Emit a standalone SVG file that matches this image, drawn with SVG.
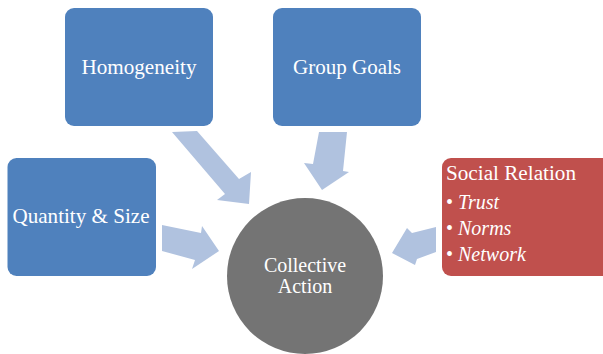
<svg xmlns="http://www.w3.org/2000/svg" width="603" height="354" viewBox="0 0 603 354">
  <style>
    .box { fill: #4F81BD; }
    .red { fill: #C0504D; }
    .hub { fill: #747474; }
    .arrow { fill: #B0C2DF; }
    .big { font-size: 22px; }
    .small { font-size: 20px; }
    .mid { text-anchor: middle; }
    .it { font-style: italic; }
  </style>
  <rect width="603" height="354" fill="#FFFFFF"/>

  <!-- connectors: block arrows pointing into the hub -->
  <g id="connectors">
    <polygon class="arrow" points="172,132 197,131 239,179 251,172 249,204 217,200 225,194"/>
    <polygon class="arrow" points="319,132 347,132 343,171 349,172 322,190 304,163 313,164"/>
    <polygon class="arrow" points="162,225 201,233 202,226 219,251 192,269 195,260 162,251"/>
    <polygon class="arrow" points="436,227 412,233 407,228 392,253 415,265 417,259 436,252"/>
  </g>

  <g font-family="Liberation Serif, Times New Roman, Times, DejaVu Serif, serif" fill="#FFFFFF">
    <g id="homogeneity">
      <rect class="box" x="65" y="8" width="148" height="118" rx="9"/>
      <text class="big mid" x="139" y="74" textLength="115" lengthAdjust="spacingAndGlyphs">Homogeneity</text>
    </g>

    <g id="group-goals">
      <rect class="box" x="273" y="8" width="148" height="118" rx="9"/>
      <text class="big mid" x="347" y="74" textLength="108" lengthAdjust="spacingAndGlyphs">Group Goals</text>
    </g>

    <g id="quantity-size">
      <rect class="box" x="7.5" y="158" width="148.5" height="118" rx="9"/>
      <text class="big mid" x="81" y="223" textLength="137" lengthAdjust="spacingAndGlyphs">Quantity &amp; Size</text>
    </g>

    <g id="social-relation">
      <rect class="red" x="442" y="158" width="175" height="118" rx="9"/>
      <text class="small" x="446" y="180" textLength="130" lengthAdjust="spacingAndGlyphs">Social Relation</text>
      <text class="small" x="446" y="209">• <tspan class="it">Trust</tspan></text>
      <text class="small" x="446" y="235">• <tspan class="it">Norms</tspan></text>
      <text class="small" x="446" y="261">• <tspan class="it">Network</tspan></text>
    </g>

    <g id="collective-action">
      <circle class="hub" cx="305" cy="276" r="78"/>
      <text class="small mid" x="305" y="272">Collective</text>
      <text class="small mid" x="305" y="293">Action</text>
    </g>
  </g>
</svg>
